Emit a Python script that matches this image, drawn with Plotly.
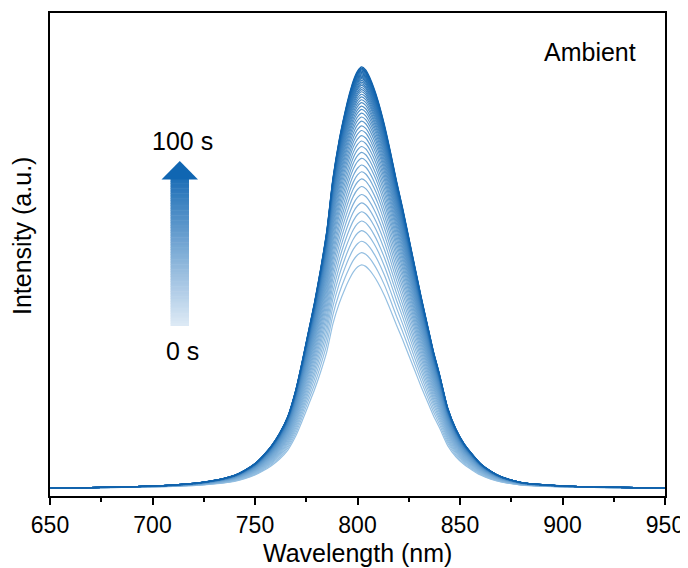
import plotly.graph_objects as go

# ---- data ----
wavelength = [650, 660, 670, 680, 690, 700, 710, 715, 720, 725, 730, 735, 740, 745,
              750, 754, 758, 762, 766, 770, 773, 776, 779, 782, 785, 788, 791, 794,
              796, 798, 800, 802, 804, 806, 808, 810, 813, 816, 819, 822, 825, 828,
              831, 834, 837, 840, 844, 848, 852, 856, 860, 865, 870, 875, 880, 890,
              900, 910, 920, 935, 950]
# normalised spectral profile (peak = 1)
profile = [0.0, 0.0, 0.001, 0.002, 0.003, 0.005, 0.007, 0.009, 0.011, 0.014, 0.018,
           0.023, 0.030, 0.042, 0.058, 0.077, 0.100, 0.130, 0.170, 0.235, 0.300,
           0.370, 0.440, 0.520, 0.610, 0.735, 0.825, 0.895, 0.935, 0.968, 0.990,
           1.000, 0.993, 0.975, 0.950, 0.920, 0.865, 0.800, 0.730, 0.665, 0.595,
           0.525, 0.455, 0.390, 0.325, 0.270, 0.190, 0.140, 0.105, 0.080, 0.058,
           0.040, 0.027, 0.019, 0.013, 0.008, 0.005, 0.003, 0.002, 0.001, 0.0]
# peak intensity of each spectrum, 0 s -> 100 s (top spectrum = 100)
peak_heights = [53.0, 55.9, 58.6, 61.1, 63.4, 65.6, 67.7, 69.7, 71.6, 73.4, 75.1,
                76.7, 78.3, 79.7, 81.1, 82.4, 83.7, 84.9, 86.0, 87.1, 88.1, 89.0,
                89.9, 90.7, 91.5, 92.2, 92.9, 93.5, 94.1, 94.6, 95.1, 95.6, 96.0,
                96.4, 96.8, 97.2, 97.5, 97.8, 98.1, 98.4, 98.7, 99.0, 99.3, 99.5,
                99.7, 100.0]
x_ticks = [650, 700, 750, 800, 850, 900, 950]
time_labels = ["0 s", "100 s"]
annotation_label = "Ambient"
x_title = "Wavelength (nm)"
y_title = "Intensity (a.u.)"

# ---- layout geometry (screen pixels; page body has an 8px margin) ----
OFF = 8
W, H = 688 - OFF, 568 - OFF
SL, SR, ST, SB = 50, 665, 13, 496          # plot frame on screen
PL, PR, PT, PB = SL - OFF, SR - OFF, ST - OFF, SB - OFF
XR = [650, 950]
YR = [-1.9, 112.8]

def px(x):
    return (x - SL) / (SR - SL)

def py(y):
    return (SB - y) / (SB - ST)

def mix(c1, c2, t):
    return "rgb(%d,%d,%d)" % tuple(round(a + (b - a) * t) for a, b in zip(c1, c2))

LIGHT = (150, 192, 226)
DARK = (16, 98, 172)

fig = go.Figure()
n = len(peak_heights)
for i, h in enumerate(peak_heights):
    t = i / (n - 1)
    fig.add_trace(go.Scatter(
        x=wavelength, y=[h * v for v in profile], mode="lines",
        line=dict(color=mix(LIGHT, DARK, t), width=1.2, shape="spline", smoothing=0.6),
        hoverinfo="skip", showlegend=False))

# gradient arrow
shapes = []
shaft_l, shaft_r, shaft_b, shaft_t = 170.5, 189, 326, 179
A_LIGHT = (222, 234, 246)
A_DARK = (16, 102, 178)
steps = 60
for k in range(steps):
    y0 = shaft_b - (shaft_b - shaft_t) * k / steps
    y1 = shaft_b - (shaft_b - shaft_t) * (k + 1) / steps - 0.5
    shapes.append(dict(type="rect", xref="paper", yref="paper",
                       x0=px(shaft_l), x1=px(shaft_r), y0=py(y0), y1=py(y1),
                       fillcolor=mix(A_LIGHT, A_DARK, (k + 0.5) / steps * 0.93),
                       line=dict(width=0), layer="above"))
shapes.append(dict(type="path", xref="paper", yref="paper",
                   path="M %f %f L %f %f L %f %f Z" % (px(161.5), py(179.5), px(198), py(179.5),
                                                        px(179.8), py(161)),
                   fillcolor="rgb(16,102,178)", line=dict(width=0), layer="above"))

annotations = [
    dict(text=time_labels[1], xref="paper", yref="paper", x=px(182), y=py(141),
         showarrow=False, font=dict(size=25, color="black"), xanchor="center", yanchor="middle"),
    dict(text=time_labels[0], xref="paper", yref="paper", x=px(182), y=py(351),
         showarrow=False, font=dict(size=25, color="black"), xanchor="center", yanchor="middle"),
    dict(text=annotation_label, xref="paper", yref="paper", x=px(590), y=py(52),
         showarrow=False, font=dict(size=25, color="black"), xanchor="center", yanchor="middle"),
    dict(text=x_title, xref="paper", yref="paper", x=px(357), y=py(553),
         showarrow=False, font=dict(size=25, color="black"), xanchor="center", yanchor="middle"),
    dict(text=y_title, xref="paper", yref="paper", x=px(22), y=py(236), textangle=-90,
         showarrow=False, font=dict(size=25, color="black"), xanchor="center", yanchor="middle"),
]

fig.update_layout(
    width=W, height=H,
    margin=dict(l=PL, r=W - PR, t=PT, b=H - PB),
    paper_bgcolor="white", plot_bgcolor="white",
    font=dict(family="Liberation Sans, Arial, sans-serif", size=23, color="black"),
    shapes=shapes, annotations=annotations,
    xaxis=dict(range=XR, tickvals=x_ticks, ticktext=[str(v) for v in x_ticks],
               showgrid=False, zeroline=False, showline=True, linecolor="black",
               linewidth=2, mirror=True, ticks="outside", ticklen=7, tickwidth=1.5,
               tickcolor="black", tickfont=dict(size=23), automargin=False,
               minor=dict(dtick=25, ticks="outside", ticklen=4, tickwidth=1.5,
                          tickcolor="black", showgrid=False)),
    yaxis=dict(range=YR, showticklabels=False, ticks="", showgrid=False, zeroline=False,
               showline=True, linecolor="black", linewidth=2, mirror=True,
               automargin=False),
)

fig.write_html("out.html")
